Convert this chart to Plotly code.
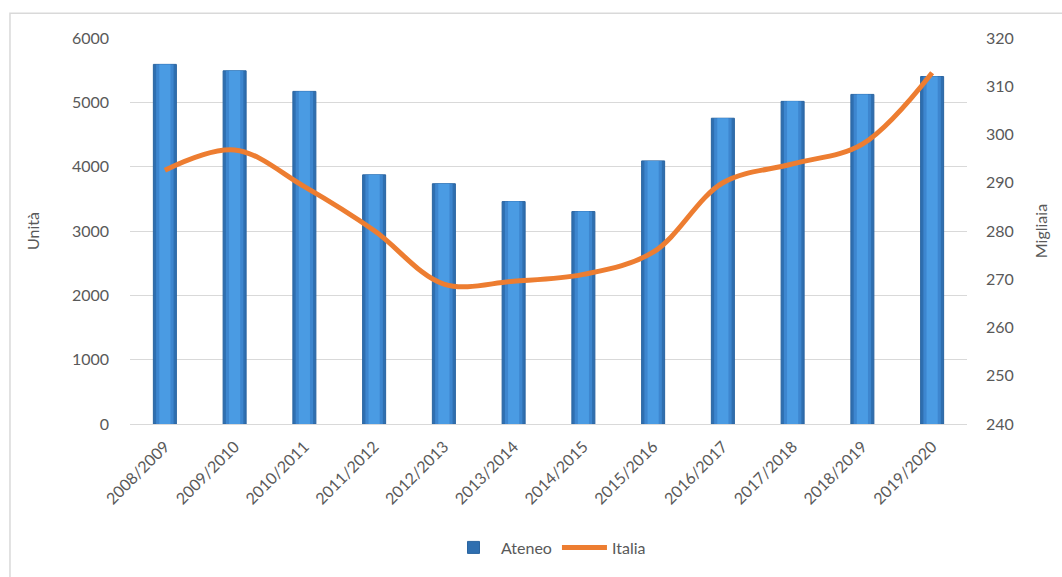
import plotly.graph_objects as go

categories = ["2008/2009", "2009/2010", "2010/2011", "2011/2012", "2012/2013", "2013/2014",
              "2014/2015", "2015/2016", "2016/2017", "2017/2018", "2018/2019", "2019/2020"]
ateneo = [5590, 5490, 5170, 3873, 3735, 3457, 3302, 4090, 4753, 5015, 5123, 5401]
italia = [292.6, 296.8, 289.2, 280.1, 269.0, 269.6, 271.0, 275.6, 290.0, 293.9, 298.0, 312.8]

font_family = "Lato, 'Open Sans', sans-serif"
tick_color = "#595959"

fig = go.Figure()

# layered bars to mimic the gradient/bevel look
fig.add_trace(go.Bar(x=categories, y=ateneo, name="Ateneo", width=0.33,
                     marker=dict(color="#2f6fb0", line=dict(color="#2a64a0", width=1)),
                     showlegend=True, legendrank=1))
fig.add_trace(go.Bar(x=categories, y=ateneo, name="Ateneo", width=0.25,
                     marker=dict(color="#3d86cf", line=dict(width=0)),
                     showlegend=False, hoverinfo="skip"))
fig.add_trace(go.Bar(x=categories, y=ateneo, name="Ateneo", width=0.16,
                     marker=dict(color="#4a9be3", line=dict(width=0)),
                     showlegend=False, hoverinfo="skip"))

fig.add_trace(go.Scatter(x=categories, y=italia, name="Italia", yaxis="y2",
                         mode="lines", line=dict(color="#ed7d31", width=5, shape="spline", smoothing=1.0),
                         legendrank=2))

fig.update_layout(
    width=1062, height=577,
    margin=dict(l=130, r=95, t=38, b=150),
    paper_bgcolor="white", plot_bgcolor="white",
    barmode="overlay",
    font=dict(family=font_family, color=tick_color, size=16),
    xaxis=dict(tickangle=-45, tickfont=dict(size=16, color=tick_color), showgrid=False,
               showline=True, linecolor="#d9d9d9", linewidth=1, ticks="", ticklabelstandoff=6,
               automargin=False),
    yaxis=dict(range=[0, 6000], dtick=1000, showgrid=True, gridcolor="#d9d9d9", gridwidth=1,
               zeroline=False, showline=False, ticks="", tickfont=dict(size=16, color=tick_color),
               ticklabelstandoff=20, automargin=False,
               title=dict(text="Unità", font=dict(size=16, color=tick_color), standoff=28)),
    yaxis2=dict(range=[240, 320], dtick=10, overlaying="y", side="right", showgrid=False,
                zeroline=False, showline=False, ticks="", tickfont=dict(size=16, color=tick_color),
                ticklabelstandoff=18, automargin=False,
                title=dict(text="Migliaia", font=dict(size=16, color=tick_color), standoff=22)),
    legend=dict(orientation="h", x=0.5, xanchor="center", y=-0.32, yanchor="middle",
                itemwidth=45,
                font=dict(size=16, color=tick_color), bgcolor="rgba(0,0,0,0)"),
    shapes=[dict(type="rect", xref="paper", yref="paper", x0=-0.1434, x1=1.3, y0=-0.6, y1=1.0643,
                 line=dict(color="#d9d9d9", width=1.5), fillcolor="rgba(0,0,0,0)", layer="below")],
)

fig.write_html("out.html")
